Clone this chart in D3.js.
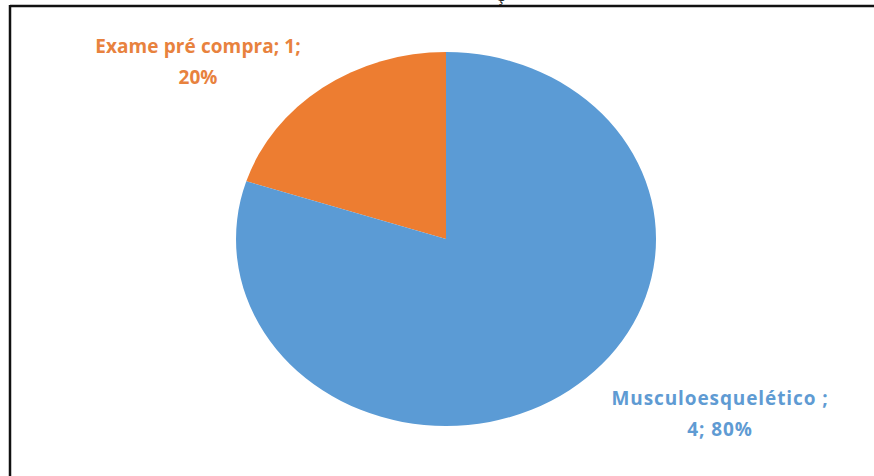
<!DOCTYPE html>
<html>
<head>
<meta charset="utf-8">
<script src="https://cdn.jsdelivr.net/npm/d3@7"></script>
<style>
  body { margin: 0; background: #fff; }
  svg { display: block; }
</style>
</head>
<body>
<div id="chart"></div>
<script>
// data
const categories = ["Exame pré compra", "Musculoesquelético "];
const values = [1, 4];
const percents = ["20%", "80%"];
const colors = ["#ED7D31", "#5B9BD5"];
const labelColors = ["#E8823E", "#5F9BD3"];

const width = 874, height = 476;
const cx = 446, cy = 239, rx = 210, ry = 187;

const svg = d3.select("#chart").append("svg")
    .attr("width", width)
    .attr("height", height);

// frame (only top and left edges visible in the original crop)
svg.append("line").attr("x1", 10).attr("y1", 6).attr("x2", width).attr("y2", 6)
    .attr("stroke", "#111").attr("stroke-width", 2.5);
svg.append("line").attr("x1", 10).attr("y1", 5).attr("x2", 10).attr("y2", height)
    .attr("stroke", "#111").attr("stroke-width", 2.5);

// clipped title, only the cedilla shows
svg.append("text").attr("x", 500).attr("y", 1)
    .attr("text-anchor", "middle")
    .style("font-family", "Open Sans")
    .style("font-size", "16px")
    .attr("fill", "#222")
    .text("Ç");

// pie goes counter clockwise from 12 o'clock: orange slice on the left
const pie = d3.pie().sort(null)
    .startAngle(0).endAngle(-2 * Math.PI)
    .value(d => d);
const arcs = pie(values);
const arc = d3.arc().innerRadius(0).outerRadius(1);

const g = svg.append("g")
    .attr("transform", "translate(" + cx + "," + cy + ") scale(" + rx + "," + ry + ")");

g.selectAll("path.slice")
    .data(arcs)
    .enter()
    .append("path")
    .attr("class", "slice")
    .attr("d", arc)
    .attr("fill", (d, i) => colors[i]);

// data labels
const labels = [
    { x: 198, y: 53, lines: [categories[0] + "; " + values[0] + ";", percents[0]] },
    { x: 720, y: 405, lines: [categories[1] + ";", values[1] + "; " + percents[1]] }
];

labels.forEach((l, i) => {
    const t = svg.append("text")
        .attr("text-anchor", "middle")
        .style("font-family", "Open Sans")
        .style("font-weight", "bold")
        .style("font-size", "19px")
        .style("letter-spacing", i === 0 ? "0.1px" : "0.9px")
        .attr("fill", labelColors[i]);
    l.lines.forEach((s, j) => {
        t.append("tspan")
            .attr("x", l.x)
            .attr("y", l.y + j * 31)
            .attr("xml:space", "preserve")
            .text(s);
    });
});
</script>
</body>
</html>
